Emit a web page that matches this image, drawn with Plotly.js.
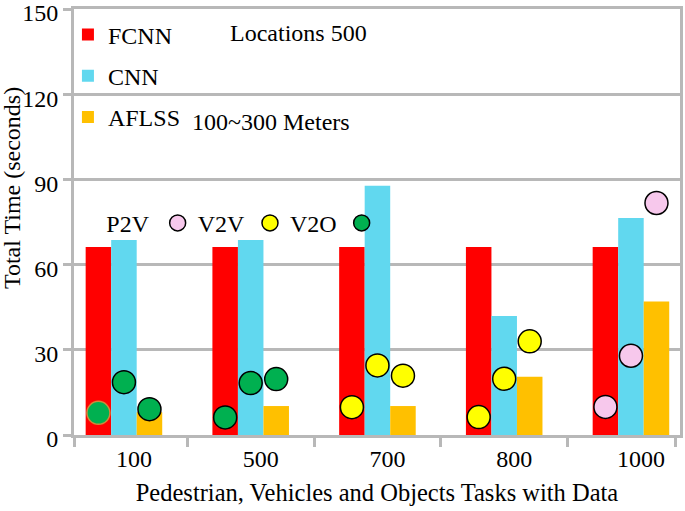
<!DOCTYPE html>
<html>
<head>
<meta charset="utf-8">
<script src="https://cdn.plot.ly/plotly-3.0.1.min.js"></script>
<style>html,body{margin:0;padding:0;background:#fff;}#chart{width:685px;height:511px;}</style>
</head>
<body>
<div id="chart"></div>
<script>
// ---- data ----
var categories = ['100', '500', '700', '800', '1000'];
var fcnn  = [66.2, 66.2, 66.2, 66.2, 66.2];
var cnn   = [68.7, 68.7, 87.8, 41.9, 76.4];
var aflss = [8.0, 10.2, 10.2, 20.5, 47.0];

// scatter markers: category index, bar slot (0=FCNN,1=CNN,2=AFLSS), value
var v2oCat  = [0, 0, 0, 1, 1, 1];
var v2oSlot = [0, 1, 2, 0, 1, 2];
var v2oVal  = [7.8, 18.6, 9.1, 6.2, 18.3, 19.7];

var v2vCat  = [2, 2, 2, 3, 3, 3];
var v2vSlot = [0, 1, 2, 0, 1, 2];
var v2vVal  = [9.8, 24.5, 20.9, 6.3, 19.8, 33.0];

var p2vCat  = [4, 4, 4];
var p2vSlot = [0, 1, 2];
var p2vVal  = [9.9, 27.9, 81.7];

var yTicks = [0, 30, 60, 90, 120, 150];

// ---- styling ----
var FONT = 'Liberation Serif, Times New Roman, serif';
var GRID = '#b8b8b8';
var bargap = 0.396;
var barW = (1 - bargap) / 3;
var idx = categories.map(function (c, i) { return i; });

function slotX(cats, slots) {
  return cats.map(function (c, i) { return c + (slots[i] - 1) * barW; });
}

var traces = [
  {type: 'bar', name: 'FCNN', x: idx, y: fcnn, marker: {color: '#ff0000'}, legendgroup: 'a', hoverinfo: 'y+name'},
  {type: 'bar', name: 'CNN', x: idx, y: cnn, marker: {color: '#61d8ef'}, legendgroup: 'b', hoverinfo: 'y+name'},
  {type: 'bar', name: 'AFLSS', x: idx, y: aflss, marker: {color: '#ffc000'}, legendgroup: 'c', hoverinfo: 'y+name'},
  {type: 'scatter', mode: 'markers', name: 'V2O', x: slotX(v2oCat, v2oSlot), y: v2oVal, showlegend: false,
   marker: {color: '#00b050', size: 23, line: {color: ['#d08a3a', '#000', '#000', '#000', '#000', '#000'], width: 1.5}}},
  {type: 'scatter', mode: 'markers', name: 'V2V', x: slotX(v2vCat, v2vSlot), y: v2vVal, showlegend: false,
   marker: {color: '#ffff00', size: 23, line: {color: '#000', width: 1.5}}},
  {type: 'scatter', mode: 'markers', name: 'P2V', x: slotX(p2vCat, p2vSlot), y: p2vVal, showlegend: false,
   marker: {color: '#f7c8ec', size: 23, line: {color: '#000', width: 1.5}}},
  // legend keys for the marker row (text precedes its marker: "P2V ○ V2V ○ V2O ●")
  {type: 'scatter', mode: 'markers', name: 'V2V', x: [null], y: [null], legend: 'legend2',
   marker: {color: '#f7c8ec', size: 23, line: {color: '#000', width: 1.5}}},
  {type: 'scatter', mode: 'markers', name: 'V2O', x: [null], y: [null], legend: 'legend2',
   marker: {color: '#ffff00', size: 23, line: {color: '#000', width: 1.5}}},
  {type: 'scatter', mode: 'markers', name: ' ', x: [null], y: [null], legend: 'legend2',
   marker: {color: '#00b050', size: 23, line: {color: '#000', width: 1.5}}}
];

var layout = {
  width: 685, height: 511,
  margin: {l: 74, r: 5, t: 9, b: 76},
  paper_bgcolor: '#fff', plot_bgcolor: '#fff',
  font: {family: FONT, size: 24, color: '#000'},
  barmode: 'group', bargap: bargap, bargroupgap: 0,
  showlegend: true,
  xaxis: {
    type: 'linear', range: [-0.394, 4.387],
    tickvals: idx, ticktext: categories, ticks: '', ticklabelshift: 10,
    tickfont: {family: FONT, size: 24},
    showgrid: false, zeroline: false,
    showline: true, linecolor: GRID, linewidth: 3, mirror: true,
    minor: {tickvals: [-0.394, 0.5, 1.5, 2.5, 3.5, 4.351], ticks: 'outside', ticklen: 9, tickwidth: 3, tickcolor: GRID, showgrid: false},
    title: {text: 'Pedestrian, Vehicles and Objects Tasks with Data', font: {family: FONT, size: 24.5}, standoff: 14}
  },
  yaxis: {
    range: [0, 150.02], tickvals: yTicks, ticklabeloverflow: 'allow', ticklabelshift: 4,
    tickfont: {family: FONT, size: 24},
    ticks: 'outside', ticklen: 8, tickwidth: 3, tickcolor: GRID,
    showgrid: true, gridcolor: GRID, gridwidth: 3, zeroline: false,
    showline: true, linecolor: GRID, linewidth: 3, mirror: true
  },
  legend: {
    x: -0.01, xanchor: 'left', y: 0.992, yanchor: 'top',
    bgcolor: 'rgba(0,0,0,0)', font: {family: FONT, size: 24},
    tracegroupgap: 7, traceorder: 'grouped'
  },
  legend2: {
    orientation: 'h', x: 0.05, xanchor: 'left', y: 0.497, yanchor: 'middle',
    bgcolor: 'rgba(0,0,0,0)', font: {family: FONT, size: 24},
    title: {text: 'P2V', side: 'left', font: {family: FONT, size: 24}},
    itemsizing: 'trace'
  },
  annotations: [
    {text: 'Total Time (seconds)', xref: 'paper', yref: 'paper', x: -0.102, y: 0.58, xanchor: 'center', yanchor: 'middle', textangle: -90, showarrow: false, font: {family: FONT, size: 24}},
    {text: 'Locations 500', xref: 'paper', yref: 'paper', x: 0.254, y: 0.944, xanchor: 'left', yanchor: 'middle', showarrow: false, font: {family: FONT, size: 24}},
    {text: '100~300 Meters', xref: 'paper', yref: 'paper', x: 0.191, y: 0.735, xanchor: 'left', yanchor: 'middle', showarrow: false, font: {family: FONT, size: 24}}
  ]
};

Plotly.newPlot('chart', traces, layout, {displayModeBar: false, staticPlot: true});
</script>
</body>
</html>
